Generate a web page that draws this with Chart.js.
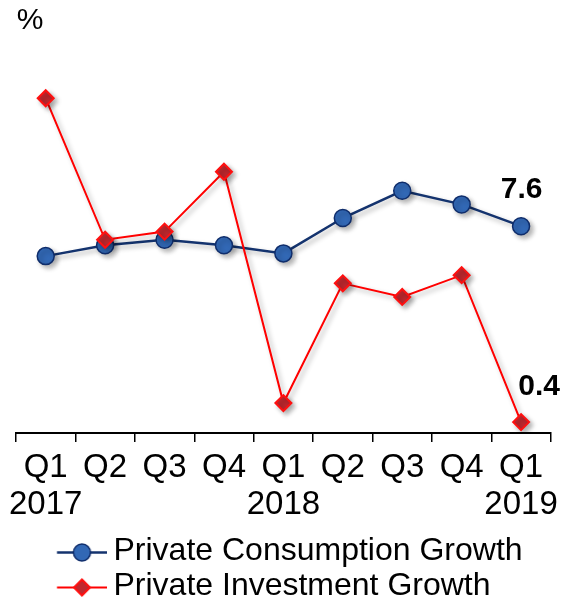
<!DOCTYPE html>
<html>
<head>
<meta charset="utf-8">
<script src="https://cdn.jsdelivr.net/npm/chart.js@4/dist/chart.umd.min.js"></script>
<style>
  html, body { margin: 0; padding: 0; background: #ffffff; }
  #wrap { width: 566px; height: 599px; position: relative; }
</style>
</head>
<body>
<div id="wrap"><canvas id="c" width="566" height="599"></canvas></div>
<script>
// ---- data ----
const categories = [["Q1", "2017"], ["Q2"], ["Q3"], ["Q4"], ["Q1", "2018"], ["Q2"], ["Q3"], ["Q4"], ["Q1", "2019"]];
const seriesNames = ["Private Consumption Growth", "Private Investment Growth"];
const consumption = [6.5, 6.9, 7.1, 6.9, 6.6, 7.9, 8.9, 8.4, 7.6];
const investment = [12.3, 7.1, 7.4, 9.6, 1.1, 5.5, 5.0, 5.8, 0.4];
const unitLabel = "%";

// ---- styles ----
const FONT = "'Liberation Sans', Arial, sans-serif";
const BLUE_LINE = "#14336e";
const BLUE_FILL = "#3268b5";
const BLUE_EDGE = "#0f2d6b";
const RED_LINE = "#ff0000";
const RED_FILL = "#c0282e";
const RED_EDGE = "#ff1010";

// legend marker images (line + marker)
function legendImage(kind) {
  const W = 98, H = 34;
  const cv = document.createElement("canvas");
  cv.width = W; cv.height = H;
  const g = cv.getContext("2d");
  const x0 = 47.75, x1 = 98, cx = 72.75, cy = 18.5;
  g.lineWidth = kind === "circle" ? 2.5 : 2;
  g.strokeStyle = kind === "circle" ? BLUE_LINE : RED_LINE;
  g.beginPath(); g.moveTo(x0, cy); g.lineTo(x1, cy); g.stroke();
  if (kind === "circle") {
    g.beginPath(); g.arc(cx, cy, 8.5, 0, Math.PI * 2);
    g.fillStyle = BLUE_FILL; g.fill();
    g.lineWidth = 1.5; g.strokeStyle = BLUE_EDGE; g.stroke();
  } else {
    const r = 8;
    g.beginPath(); g.moveTo(cx, cy - r); g.lineTo(cx + r, cy); g.lineTo(cx, cy + r); g.lineTo(cx - r, cy); g.closePath();
    g.fillStyle = RED_FILL; g.fill();
    g.lineWidth = 2; g.strokeStyle = RED_EDGE; g.stroke();
  }
  return cv;
}
const legendImgs = [legendImage("circle"), legendImage("diamond")];

const shadowPlugin = {
  id: "shadow",
  beforeDatasetDraw(chart) {
    const ctx = chart.ctx;
    ctx.save();
    ctx.shadowColor = "rgba(0,0,0,0.30)";
    ctx.shadowBlur = 5;
    ctx.shadowOffsetX = 3;
    ctx.shadowOffsetY = 3;
  },
  afterDatasetDraw(chart) {
    chart.ctx.restore();
  }
};

const textPlugin = {
  id: "texts",
  afterDraw(chart) {
    const ctx = chart.ctx;
    ctx.save();
    ctx.fillStyle = "#000";
    ctx.textAlign = "center";
    ctx.textBaseline = "middle";
    ctx.font = "30px " + FONT;
    ctx.fillText(unitLabel, 30, 21);
    ctx.font = "bold 30px " + FONT;
    const pc = chart.getDatasetMeta(0).data[consumption.length - 1];
    const pi = chart.getDatasetMeta(1).data[investment.length - 1];
    ctx.fillText(consumption[consumption.length - 1].toFixed(1), pc.x + 0.5, pc.y - 36);
    ctx.fillText(investment[investment.length - 1].toFixed(1), pi.x + 18, pi.y - 35.5);
    ctx.restore();
  }
};

new Chart(document.getElementById("c"), {
  type: "line",
  data: {
    labels: categories,
    datasets: [
      {
        label: seriesNames[0],
        data: consumption,
        order: 1,
        borderColor: BLUE_LINE,
        borderWidth: 2.5,
        pointStyle: "circle",
        pointRadius: 8.5,
        pointHoverRadius: 8.5,
        pointBackgroundColor: BLUE_FILL,
        pointBorderColor: BLUE_EDGE,
        pointBorderWidth: 1.5,
        tension: 0,
        fill: false
      },
      {
        label: seriesNames[1],
        data: investment,
        order: 0,
        borderColor: RED_LINE,
        borderWidth: 2,
        pointStyle: "rectRot",
        pointRadius: 8,
        pointHoverRadius: 8,
        pointBackgroundColor: RED_FILL,
        pointBorderColor: RED_EDGE,
        pointBorderWidth: 2,
        tension: 0,
        fill: false
      }
    ]
  },
  options: {
    responsive: false,
    animation: false,
    events: [],
    layout: { padding: { left: 16, right: 13, top: 52, bottom: 0 } },
    scales: {
      x: {
        type: "category",
        offset: true,
        border: { display: true, color: "#000", width: 2 },
        grid: {
          display: true,
          offset: true,
          drawOnChartArea: false,
          drawTicks: true,
          tickLength: 9,
          color: "#000",
          lineWidth: 1.5
        },
        ticks: {
          color: "#000",
          font: { family: FONT, size: 33, lineHeight: 1.12 },
          padding: 7.5,
          maxRotation: 0,
          minRotation: 0,
          autoSkip: false
        },
        afterFit(scale) { scale.height = 99; }
      },
      y: {
        display: false,
        min: 0,
        max: 14
      }
    },
    plugins: {
      tooltip: { enabled: false },
      legend: {
        display: true,
        position: "bottom",
        align: "start",
        maxHeight: 67,
        labels: {
          color: "#000",
          font: { family: FONT, size: 32 },
          padding: 3,
          usePointStyle: true,
          pointStyleWidth: 78.5,
          generateLabels(chart) {
            return chart.data.datasets.map((ds, i) => ({
              text: ds.label,
              fillStyle: "rgba(0,0,0,0)",
              strokeStyle: "rgba(0,0,0,0)",
              lineWidth: 0,
              pointStyle: legendImgs[i],
              fontColor: "#000",
              hidden: false,
              datasetIndex: i
            }));
          }
        }
      }
    }
  },
  plugins: [shadowPlugin, textPlugin]
});
</script>
</body>
</html>
